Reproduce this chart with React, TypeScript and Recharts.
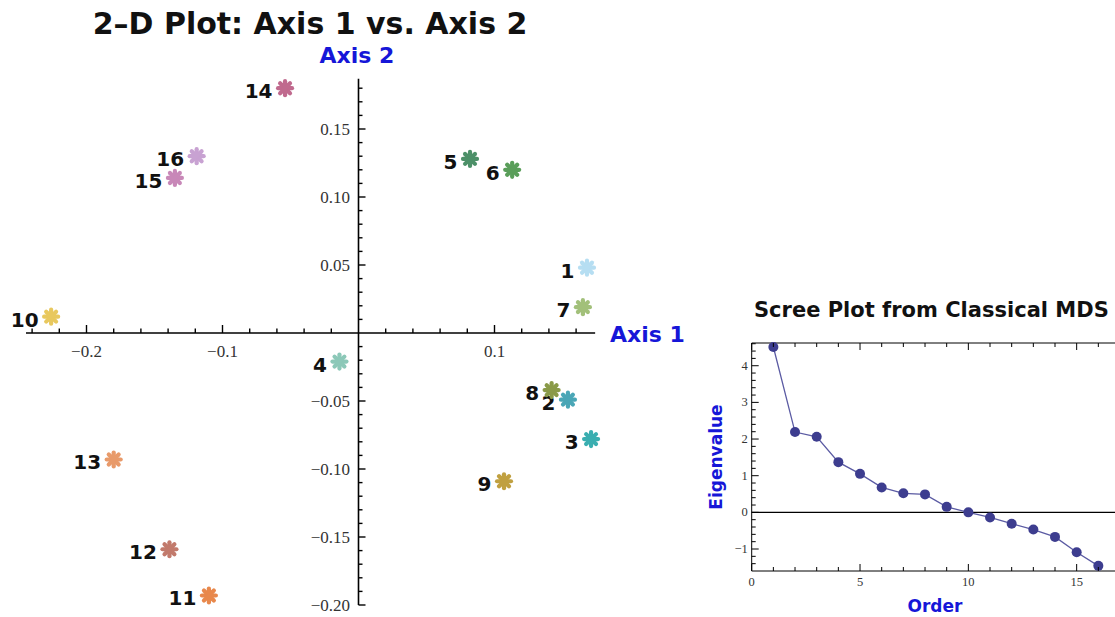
import React from 'react';
import {
  ScatterChart,
  Scatter,
  LineChart,
  Line,
  XAxis,
  YAxis,
  ReferenceLine,
} from 'recharts';

// ---- 2-D plot data (Axis 1 vs Axis 2) ----
const POINT_IDS = [1, 2, 3, 4, 5, 6, 7, 8, 9, 10, 11, 12, 13, 14, 15, 16];
const AXIS1 = [0.168, 0.154, 0.171, -0.014, 0.082, 0.113, 0.165, 0.142, 0.107, -0.226, -0.110, -0.139, -0.180, -0.054, -0.135, -0.119];
const AXIS2 = [0.048, -0.049, -0.078, -0.021, 0.128, 0.120, 0.019, -0.042, -0.109, 0.012, -0.193, -0.159, -0.093, 0.180, 0.114, 0.130];
const POINT_COLORS = [
  '#b6def2', '#4aa6b6', '#3aaeb0', '#8cc8b8', '#4c9068', '#5a9e5a', '#a2c07a', '#8a9a48',
  '#c0a040', '#e8c85e', '#e8884c', '#c27a6c', '#e89a6a', '#c06a8e', '#c888b8', '#c8a2d2',
];

const X_TICK_VALUES = [-0.2, -0.1, 0.1];
const X_TICK_LABELS = ['\u22120.2', '\u22120.1', '0.1'];
const Y_TICK_VALUES = [0.15, 0.1, 0.05, -0.05, -0.1, -0.15, -0.2];
const Y_TICK_LABELS = ['0.15', '0.10', '0.05', '\u22120.05', '\u22120.10', '\u22120.15', '\u22120.20'];

const X_LINE = [-0.2445, 0.174];
const Y_LINE = [-0.2, 0.187];

// ---- scree plot data ----
const ORDER = [1, 2, 3, 4, 5, 6, 7, 8, 9, 10, 11, 12, 13, 14, 15, 16];
const EIGENVALUES = [4.51, 2.19, 2.06, 1.37, 1.05, 0.68, 0.52, 0.49, 0.15, 0.0, -0.14, -0.31, -0.47, -0.67, -1.09, -1.46];
const SCREE_X_LABELS = [0, 5, 10, 15];
const SCREE_Y_LABELS = [-1, 0, 1, 2, 3, 4];

const BLUE = '#1616d8';
const BOLD = '"DejaVu Sans", Verdana, sans-serif';
const SERIF = '"Liberation Serif", "Times New Roman", serif';

const points = POINT_IDS.map((id, i) => ({ id, x: AXIS1[i], y: AXIS2[i], color: POINT_COLORS[i] }));

// minor + major ticks for the crossing axes
const xTicks: any[] = [];
for (let i = -12; i <= 8; i++) {
  const v = Math.round(i * 2) / 100;
  const k = X_TICK_VALUES.findIndex((t) => Math.abs(t - v) < 1e-9);
  if (i === 0) continue;
  xTicks.push({ x: v, y: 0, major: k >= 0, label: k >= 0 ? X_TICK_LABELS[k] : '' });
}
const yTicks: any[] = [];
for (let i = -20; i <= 18; i++) {
  const v = i / 100;
  const k = Y_TICK_VALUES.findIndex((t) => Math.abs(t - v) < 1e-9);
  if (i === 0) continue;
  yTicks.push({ x: 0, y: v, major: k >= 0, label: k >= 0 ? Y_TICK_LABELS[k] : '' });
}

const screeData = ORDER.map((o, i) => ({ order: o, eig: EIGENVALUES[i] }));
const screeXTicks: number[] = [];
for (let i = 0; i <= 17; i++) screeXTicks.push(i);
const screeYTicks: number[] = [];
for (let i = -7; i <= 23; i++) screeYTicks.push(Math.round(i * 2) / 10);

const StarShape = (props: any) => {
  const { cx, cy, payload } = props;
  const r = 7;
  return (
    <g>
      {[0, 45, 90, 135].map((a) => {
        const rad = (a * Math.PI) / 180;
        return (
          <line
            key={a}
            x1={cx - r * Math.cos(rad)}
            y1={cy - r * Math.sin(rad)}
            x2={cx + r * Math.cos(rad)}
            y2={cy + r * Math.sin(rad)}
            stroke={payload.color}
            strokeWidth={4.2}
            strokeLinecap="round"
          />
        );
      })}
      <text x={cx - 12.5} y={cy + 10} textAnchor="end" fontFamily={BOLD} fontWeight="bold" fontSize={20} fill="#111">
        {payload.id}
      </text>
    </g>
  );
};

const XTickShape = (props: any) => {
  const { cx, cy, payload } = props;
  const len = payload.major ? 8 : 4.5;
  return (
    <g>
      <line x1={cx} y1={cy} x2={cx} y2={cy - len} stroke="#000" strokeWidth={1.4} />
      {payload.label && (
        <text x={cx} y={cy + 24} textAnchor="middle" fontFamily={SERIF} fontSize={17} fill="#333">
          {payload.label}
        </text>
      )}
    </g>
  );
};

const YTickShape = (props: any) => {
  const { cx, cy, payload } = props;
  const len = payload.major ? 7 : 4;
  return (
    <g>
      <line x1={cx} y1={cy} x2={cx + len} y2={cy} stroke="#000" strokeWidth={1.4} />
      {payload.label && (
        <text x={cx - 8.5} y={cy + 5.5} textAnchor="end" fontFamily={SERIF} fontSize={17} fill="#333">
          {payload.label}
        </text>
      )}
    </g>
  );
};

const BottomTick = (props: any) => {
  const { x, y, payload } = props;
  const major = SCREE_X_LABELS.includes(payload.value);
  return (
    <g>
      <line x1={x} y1={y} x2={x} y2={y - (major ? 7 : 4)} stroke="#000" strokeWidth={1} />
      {major && (
        <text x={x} y={y + 15} textAnchor="middle" fontFamily={SERIF} fontSize={12.5} fill="#333">
          {payload.value}
        </text>
      )}
    </g>
  );
};

const TopTick = (props: any) => {
  const { x, y, payload } = props;
  const major = SCREE_X_LABELS.includes(payload.value);
  return <line x1={x} y1={y} x2={x} y2={y + (major ? 7 : 4)} stroke="#000" strokeWidth={1} />;
};

const LeftTick = (props: any) => {
  const { x, y, payload } = props;
  const major = SCREE_Y_LABELS.some((v) => Math.abs(v - payload.value) < 1e-9);
  return (
    <g>
      <line x1={x} y1={y} x2={x + (major ? 7 : 4)} y2={y} stroke="#000" strokeWidth={1} />
      {major && (
        <text x={x - 4} y={y + 4} textAnchor="end" fontFamily={SERIF} fontSize={12.5} fill="#333">
          {payload.value < 0 ? '\u2212' + Math.abs(payload.value) : payload.value}
        </text>
      )}
    </g>
  );
};

const App: React.FC = () => {
  return (
    <div style={{ position: 'fixed', left: 0, top: 0, width: 1115, height: 617, overflow: 'hidden', background: '#fff' }}>
      <div style={{ position: 'absolute', left: 0, top: 0 }}>
        <ScatterChart width={720} height={617} margin={{ top: 61, right: 21.5, bottom: 5.2, left: 18.5 }}>
          <XAxis type="number" dataKey="x" domain={[-0.25, 0.25]} hide />
          <YAxis type="number" dataKey="y" domain={[-0.205, 0.2]} hide />
          <ReferenceLine segment={[{ x: X_LINE[0], y: 0 }, { x: X_LINE[1], y: 0 }]} stroke="#000" strokeWidth={1.6} />
          <ReferenceLine segment={[{ x: 0, y: Y_LINE[0] }, { x: 0, y: Y_LINE[1] }]} stroke="#000" strokeWidth={1.6} />
          <Scatter data={xTicks} shape={XTickShape} isAnimationActive={false} />
          <Scatter data={yTicks} shape={YTickShape} isAnimationActive={false} />
          <Scatter data={points} shape={StarShape} isAnimationActive={false} />
        </ScatterChart>
      </div>

      <div style={{ position: 'absolute', left: 700, top: 330 }}>
        <LineChart width={440} height={287} data={screeData} margin={{ top: 12, right: 20, bottom: 45, left: 50.7 }}>
          <XAxis
            type="number"
            dataKey="order"
            domain={[0, 17]}
            ticks={screeXTicks}
            interval={0}
            height={1}
            tickSize={0}
            tickMargin={0}
            tickLine={false}
            axisLine={{ stroke: '#000', strokeWidth: 1 }}
            tick={<BottomTick />}
          />
          <XAxis
            xAxisId="top"
            orientation="top"
            type="number"
            dataKey="order"
            domain={[0, 17]}
            ticks={screeXTicks}
            interval={0}
            height={1}
            tickSize={0}
            tickMargin={0}
            tickLine={false}
            axisLine={{ stroke: '#000', strokeWidth: 1 }}
            tick={<TopTick />}
          />
          <YAxis
            type="number"
            domain={[-1.6, 4.62]}
            ticks={screeYTicks}
            interval={0}
            width={1}
            tickSize={0}
            tickMargin={0}
            tickLine={false}
            axisLine={{ stroke: '#000', strokeWidth: 1 }}
            tick={<LeftTick />}
          />
          <ReferenceLine y={0} stroke="#000" strokeWidth={1.2} />
          <Line
            dataKey="eig"
            stroke="#5b5ba3"
            strokeWidth={1.3}
            dot={{ r: 5, fill: '#3d3d8f', stroke: '#3d3d8f', strokeWidth: 0 }}
            isAnimationActive={false}
          />
        </LineChart>
      </div>

      <svg width={1115} height={617} style={{ position: 'absolute', left: 0, top: 0, pointerEvents: 'none' }}>
        <text x={310} y={34} textAnchor="middle" fontFamily={BOLD} fontWeight="bold" fontSize={30} fill="#111">
          2–D Plot: Axis 1 vs. Axis 2
        </text>
        <text x={357} y={63} textAnchor="middle" fontFamily={BOLD} fontWeight="bold" fontSize={22} fill={BLUE}>
          Axis 2
        </text>
        <text x={610} y={342} textAnchor="start" fontFamily={BOLD} fontWeight="bold" fontSize={22} fill={BLUE}>
          Axis 1
        </text>
        <text x={754} y={317} textAnchor="start" fontFamily={BOLD} fontWeight="bold" fontSize={21} fill="#111">
          Scree Plot from Classical MDS
        </text>
        <text
          x={0}
          y={0}
          transform="translate(722 457) rotate(-90)"
          textAnchor="middle"
          fontFamily={BOLD}
          fontWeight="bold"
          fontSize={17}
          fill={BLUE}
        >
          Eigenvalue
        </text>
        <text x={935} y={612} textAnchor="middle" fontFamily={BOLD} fontWeight="bold" fontSize={17} fill={BLUE}>
          Order
        </text>
      </svg>
    </div>
  );
};

export default App;
